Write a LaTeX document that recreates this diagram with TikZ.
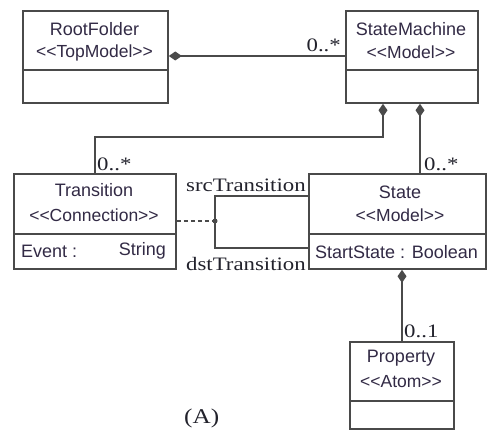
\documentclass[tikz,border=0pt]{standalone}
\usepackage{fontspec}
\setmainfont{Liberation Serif}
\newfontfamily\arialf{Liberation Sans}
\newfontfamily\serwide[FakeStretch=1.2]{Liberation Serif}
\usetikzlibrary{arrows.meta}
\definecolor{lineg}{HTML}{4A4A4A}
\definecolor{txtc}{HTML}{322A45}
\definecolor{serc}{HTML}{22222C}
\begin{document}
\begin{tikzpicture}[x=1pt,y=-1pt,
 box/.style={draw=lineg, line width=1.8pt, fill=white, anchor=north west, inner sep=0pt},
 nm/.style={font=\arialf\fontsize{18}{20}\selectfont, text=txtc, inner sep=0pt},
 st/.style={font=\arialf\fontsize{17.5}{19}\selectfont, text=txtc, inner sep=0pt},
 lab/.style={font=\serwide\fontsize{19}{22}\selectfont, text=serc, inner sep=0pt},
 conn/.style={draw=lineg, line width=1.6pt},
 comp/.style={conn, {Diamond[length=13pt,width=9pt]}-},
 divider/.style={draw=lineg, line width=1.8pt},
]
\useasboundingbox (0,0) rectangle (487,430);
% boxes
\node[box, minimum width=145pt, minimum height=92pt] (root) at (22,10) {};
\node[box, minimum width=132pt, minimum height=92pt] (sm) at (345,10) {};
\node[box, minimum width=162pt, minimum height=95pt] (trans) at (13,173) {};
\node[box, minimum width=177pt, minimum height=95pt] (state) at (308,173) {};
\node[box, minimum width=104pt, minimum height=87pt] (prop) at (349,341) {};
% dividers
\draw[divider] ([yshift=-60pt]root.north west) -- ([yshift=-60pt]root.north east);
\draw[divider] ([yshift=-60pt]sm.north west) -- ([yshift=-60pt]sm.north east);
\draw[divider] ([yshift=-61pt]trans.north west) -- ([yshift=-61pt]trans.north east);
\draw[divider] ([yshift=-61pt]state.north west) -- ([yshift=-61pt]state.north east);
\draw[divider] ([yshift=-60pt]prop.north west) -- ([yshift=-60pt]prop.north east);
% texts
\node[nm] (rootn) at (94.5,29) {RootFolder};
\node[st] (roots) at (94.5,53) {<<TopModel>>};
\node[nm] (smn) at (411,29) {StateMachine};
\node[st] (sms) at (411,52) {<<Model>>};
\node[nm] (transn) at (94,190) {Transition};
\node[st] (transs) at (94,215) {<<Connection>>};
\node[nm, anchor=west] (transa) at (21,251) {Event :};
\node[nm, anchor=east] (transb) at (166,251) {String};
\node[nm] (staten) at (400,192) {State};
\node[st] (states) at (400,215) {<<Model>>};
\node[nm, anchor=west] (statea) at (315,252) {StartState : Boolean};
\node[nm] (propn) at (401,358) {Property};
\node[st] (props) at (401,382) {<<Atom>>};
% helper coordinates
\coordinate (c1) at (0,56);
\coordinate (a1) at (383,0);
\coordinate (k1) at (95,137);
\coordinate (a2) at (420,0);
\coordinate (a3) at (402,0);
\coordinate (ls) at (215,196);
\coordinate (ld) at (215,248);
\coordinate (ldot) at (215,221);
% connectors
\draw[comp] (root.east |- c1) -- (sm.west |- c1);
\draw[comp] (sm.south -| a1) |- (k1) -- (trans.north -| k1);
\draw[comp] (sm.south -| a2) -- (state.north -| a2);
\draw[comp] (state.south -| a3) -- (prop.north -| a3);
\draw[conn] (state.west |- ls) -- (ls) -- (ld) -- (state.west |- ld);
\fill[lineg] (ldot) circle (2.5pt);
\draw[conn, dash pattern=on 4pt off 3pt] (trans.east |- ldot) -- (ldot);
% labels
\node[lab, anchor=base east] (m1) at (341,52) {0..*};
\node[lab, anchor=base west] (m2) at (97,171) {0..*};
\node[lab, anchor=base west] (m3) at (424,171) {0..*};
\node[lab, anchor=base west] (m4) at (404,337) {0..1};
\node[lab, anchor=base west] (srcl) at (186,192) {srcTransition};
\node[lab, anchor=base west] (dstl) at (186,270) {dstTransition};
\node[lab, anchor=base west, font=\serwide\fontsize{21}{24}\selectfont] (capA) at (184,423) {(A)};
\end{tikzpicture}
\end{document}
